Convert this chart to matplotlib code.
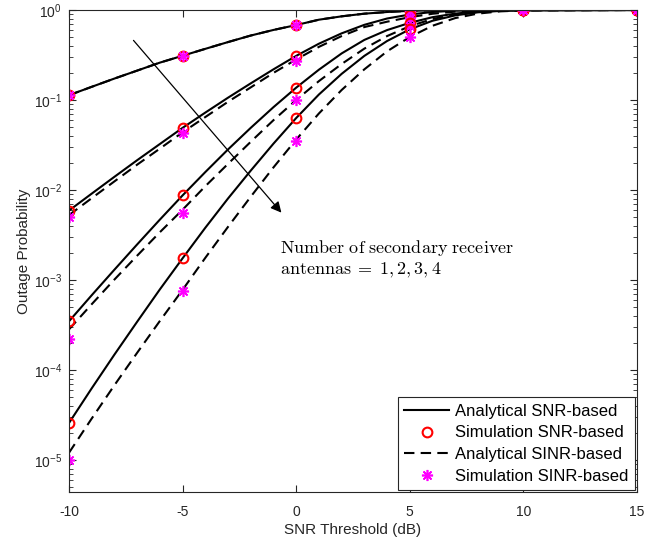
import matplotlib
matplotlib.use("Agg")
import matplotlib.pyplot as plt

plt.rcParams['font.family'] = ['Liberation Sans', 'DejaVu Sans']
plt.rcParams['mathtext.fontset'] = 'cm'
plt.rcParams['axes.unicode_minus'] = False

# simulation points (dB threshold)
snr_sim = [-10, -5, 0, 5, 10, 15]
sim_snr = [
    [0.113, 0.31, 0.68, 0.98, 1.0, 1.0],
    [5.9e-3, 0.049, 0.31, 0.88, 1.0, 1.0],
    [3.5e-4, 8.7e-3, 0.137, 0.72, 1.0, 1.0],
    [2.55e-5, 1.74e-3, 0.063, 0.61, 1.0, 1.0],
]
sim_sinr = [
    [0.113, 0.31, 0.68, 0.98, 1.0, 1.0],
    [5.0e-3, 0.043, 0.27, 0.81, 1.0, 1.0],
    [2.2e-4, 5.5e-3, 0.10, 0.66, 1.0, 1.0],
    [1.0e-5, 7.6e-4, 0.035, 0.50, 1.0, 1.0],
]

# analytical curves at 1 dB steps
snr_ana = [-10, -9, -8, -7, -6, -5, -4, -3, -2, -1, 0,
           1, 2, 3, 4, 5, 6, 7, 8, 9, 10, 15]
ana_snr = [
    [0.113, 0.14, 0.173, 0.212, 0.26, 0.31, 0.37, 0.44, 0.52, 0.60, 0.68,
     0.78, 0.85, 0.91, 0.95, 0.98, 0.99, 0.998, 1.0, 1.0, 1.0, 1.0],
    [5.9e-3, 9.1e-3, 0.014, 0.0214, 0.0324, 0.049, 0.0724, 0.106, 0.153, 0.219, 0.309,
     0.422, 0.55, 0.684, 0.804, 0.891, 0.95, 0.982, 0.993, 0.998, 1.0, 1.0],
    [3.47e-4, 6.76e-4, 1.30e-3, 2.48e-3, 4.68e-3, 8.7e-3, 0.0158, 0.0282, 0.049, 0.0832, 0.137,
     0.217, 0.329, 0.465, 0.598, 0.72, 0.832, 0.912, 0.962, 0.986, 0.995, 1.0],
    [2.57e-5, 6.24e-5, 1.48e-4, 3.43e-4, 7.85e-4, 1.74e-3, 3.8e-3, 8.04e-3, 0.0164, 0.0327, 0.063,
     0.115, 0.195, 0.309, 0.452, 0.61, 0.759, 0.871, 0.942, 0.977, 0.991, 1.0],
]
ana_sinr = [
    [0.113, 0.14, 0.173, 0.212, 0.26, 0.31, 0.37, 0.44, 0.52, 0.60, 0.68,
     0.78, 0.85, 0.91, 0.95, 0.98, 0.99, 0.998, 1.0, 1.0, 1.0, 1.0],
    [5.25e-3, 8.1e-3, 0.01245, 0.0191, 0.0288, 0.0437, 0.0646, 0.0955, 0.138, 0.200, 0.282,
     0.389, 0.513, 0.646, 0.741, 0.832, 0.908, 0.959, 0.982, 0.993, 0.998, 1.0],
    [2.82e-4, 5.37e-4, 1.01e-3, 1.86e-3, 3.39e-3, 6.03e-3, 0.011, 0.0195, 0.0343, 0.0596, 0.1,
     0.162, 0.251, 0.372, 0.513, 0.661, 0.794, 0.891, 0.951, 0.982, 0.993, 1.0],
    [1.2e-5, 2.88e-5, 6.76e-5, 1.55e-4, 3.5e-4, 7.76e-4, 1.76e-3, 3.89e-3, 8.41e-3, 0.0178, 0.0363,
     0.0708, 0.129, 0.219, 0.347, 0.501, 0.668, 0.813, 0.912, 0.966, 0.989, 1.0],
]

fig = plt.figure(figsize=(6.67, 5.46), dpi=100)
ax = fig.add_axes([0.1034, 0.0989, 0.8516, 0.8828])

for i in range(4):
    ax.semilogy(snr_ana, ana_sinr[i], color='black', lw=1.5, dashes=(5, 3),
                label='Analytical SINR-based' if i == 0 else None)
    ax.semilogy(snr_ana, ana_snr[i], color='black', lw=1.5,
                label='Analytical SNR-based' if i == 0 else None)
for i in range(4):
    ax.semilogy(snr_sim, sim_snr[i], 'o', mfc='none', mec='red', mew=1.5, ms=7,
                label='Simulation SNR-based' if i == 0 else None)
    ax.semilogy(snr_sim, sim_sinr[i], marker=(8, 2, 0), ls='none', color='magenta',
                mew=1.2, ms=8, label='Simulation SINR-based' if i == 0 else None)

ax.set_xlim(-10, 15)
ax.set_ylim(4.4e-6, 1)
ax.set_xticks([-10, -5, 0, 5, 10, 15])
ax.tick_params(which='both', direction='in', top=True, right=True, labelsize=10,
               colors='#262626')
ax.tick_params(axis='x', which='minor', top=False, bottom=False)
ax.tick_params(axis='x', pad=9)
ax.tick_params(axis='y', pad=5)
ax.tick_params(which='major', length=5)
ax.tick_params(which='minor', length=3)
for s in ax.spines.values():
    s.set_color('#262626')
    s.set_linewidth(0.8)
ax.set_xlabel('SNR Threshold (dB)', fontsize=11, color='#262626', labelpad=3)
ax.set_ylabel('Outage Probability', fontsize=11, color='#262626', labelpad=2)

ax.annotate('', xy=(-0.57, 5.3e-3), xytext=(-7.24, 0.485),
            arrowprops=dict(arrowstyle='-|>', color='black', lw=0.9,
                            mutation_scale=16))
ax.text(-0.71, 2.93e-3, r'$\mathrm{Number\ of\ secondary\ receiver}$' + '\n' +
        r'$\mathrm{antennas}\;=\;1, 2, 3, 4$', fontsize=13, va='top', ha='left',
        linespacing=1.25)

handles, labels = ax.get_legend_handles_labels()
order = ['Analytical SNR-based', 'Simulation SNR-based',
         'Analytical SINR-based', 'Simulation SINR-based']
hmap = dict(zip(labels, handles))
leg = ax.legend([hmap[k] for k in order], order, loc='lower right', fontsize=12,
                fancybox=False, edgecolor='#262626', framealpha=1,
                borderaxespad=0.1, handlelength=2.7, handletextpad=0.35,
                labelspacing=0.4, borderpad=0.4)
leg.get_frame().set_linewidth(0.8)

fig.savefig('out.png', dpi=100)
